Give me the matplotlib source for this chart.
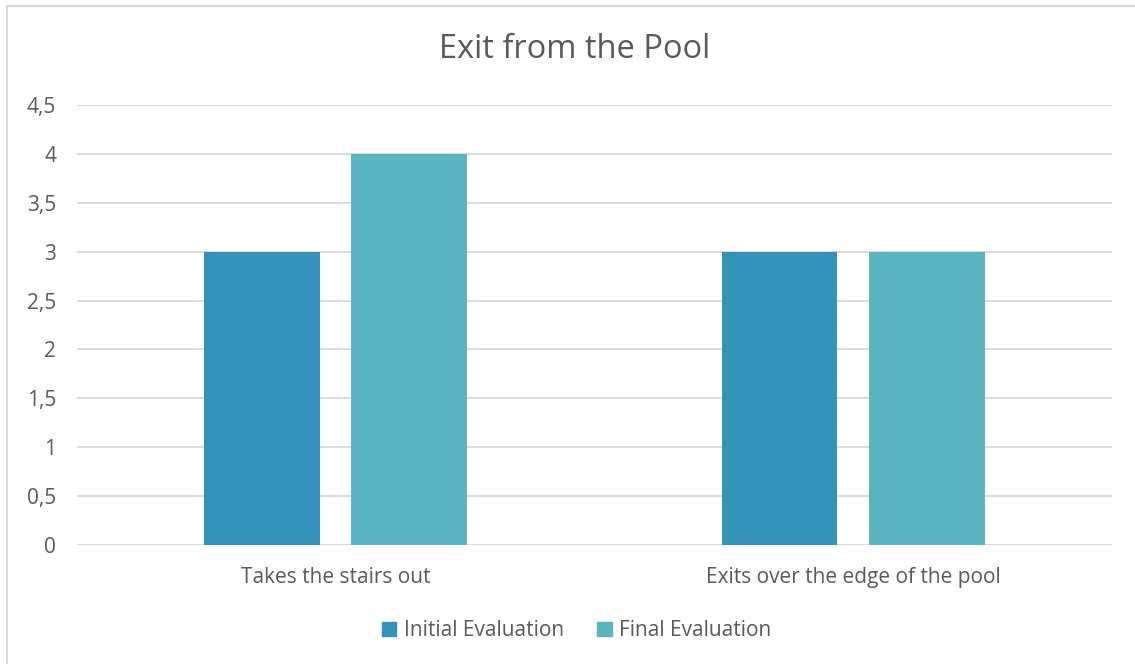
import matplotlib
matplotlib.use("Agg")
import matplotlib.pyplot as plt
import matplotlib.patches as mpatches
import numpy as np

# --- dane ---
categories = ["Takes the stairs out", "Exits over the edge of the pool"]
series_names = ["Initial Evaluation", "Final Evaluation"]
initial_vals = [3, 3]
final_vals = [4, 3]
y_ticks = [0, 0.5, 1, 1.5, 2, 2.5, 3, 3.5, 4, 4.5]

COLORS = ["#3492B9", "#5AB5C0"]
TEXT = "#595959"
GRID = "#D9D9D9"

plt.rcParams['font.family'] = ['Open Sans', 'DejaVu Sans']

fig = plt.figure(figsize=(11.35, 6.64), dpi=100)
ax = fig.add_axes([0.0678, 0.1792, 0.9119, 0.6627])

x = np.arange(len(categories))
width = 0.224
offset = 0.1425
ax.bar(x - offset, initial_vals, width, color=COLORS[0], label=series_names[0], zorder=3)
ax.bar(x + offset, final_vals, width, color=COLORS[1], label=series_names[1], zorder=3)

ax.set_xlim(-0.5, len(categories) - 0.5)
ax.set_ylim(0, 4.5)
ax.set_yticks(y_ticks)
ax.set_yticklabels([f"{v:g}".replace('.', ',') for v in y_ticks])
ax.set_xticks(x)
ax.set_xticklabels(categories)

ax.grid(axis='y', color=GRID, linewidth=1.3, zorder=0)
for s in ax.spines.values():
    s.set_visible(False)
ax.tick_params(axis='both', length=0, labelsize=15, labelcolor=TEXT)
ax.tick_params(axis='y', pad=15)
ax.tick_params(axis='x', pad=16)

fig.text(0.5066, 0.925, "Exit from the Pool", ha='center', va='center',
         fontsize=23.5, color=TEXT)

handles = [mpatches.Patch(color=c, label=n) for c, n in zip(COLORS, series_names)]
fig.legend(handles=handles, loc='center', bbox_to_anchor=(0.508, 0.050), ncol=2,
           frameon=False, fontsize=15, labelcolor=TEXT, handlelength=0.7,
           handleheight=0.7, handletextpad=0.35, columnspacing=1.62)

# ramka wykresu
border = mpatches.Rectangle((7 / 1135, -0.1), 1.2, 1 - 6 / 664 + 0.1,
                            transform=fig.transFigure, fill=False,
                            edgecolor=GRID, linewidth=1.5)
fig.patches.append(border)

fig.savefig("out.png", dpi=100)
